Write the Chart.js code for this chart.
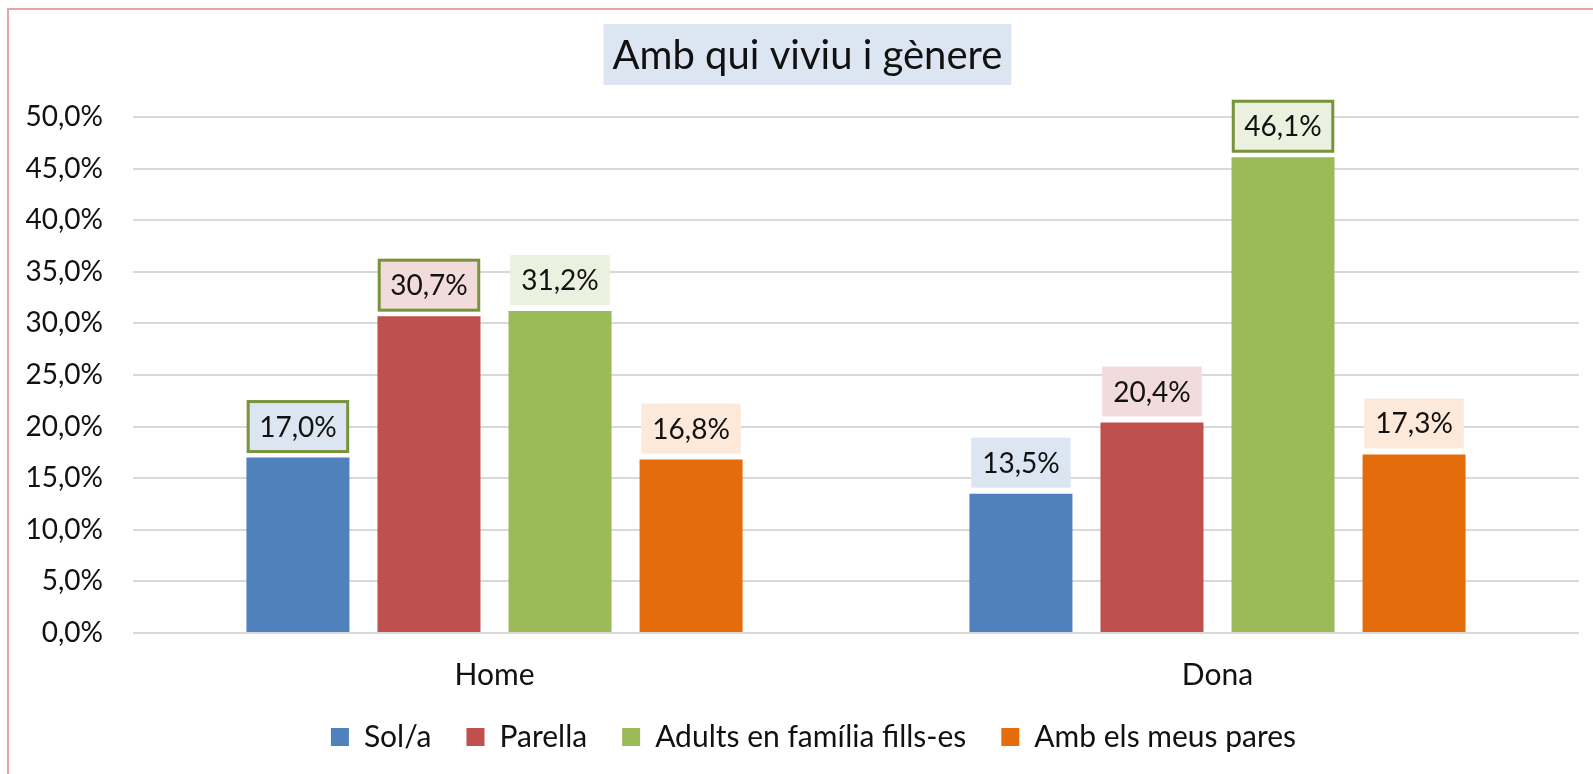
<!DOCTYPE html>
<html>
<head>
<meta charset="utf-8">
<script src="https://cdn.jsdelivr.net/npm/chart.js@4.4.1/dist/chart.umd.min.js"></script>
<style>
    html, body { margin: 0; padding: 0; background: #fff; overflow: hidden; }
    #frame { position: absolute; left: 7px; top: 8px; width: 1640px; height: 820px; border: 2px solid #E8A4A4; }
    #wrap { position: absolute; left: 0; top: 0; width: 1593px; height: 774px; }
</style>
</head>
<body>
<div id="frame"></div>
<div id="wrap"><canvas id="chart"></canvas></div>
<script>
// Data
const categories = ['Home', 'Dona'];
const seriesNames = ['Sol/a', 'Parella', 'Adults en família fills-es', 'Amb els meus pares'];
const solaValues = [17.0, 13.5];
const parellaValues = [30.7, 20.4];
const adultsValues = [31.2, 46.1];
const paresValues = [16.8, 17.3];
const yTicks = [0, 5, 10, 15, 20, 25, 30, 35, 40, 45, 50];
const chartTitle = 'Amb qui viviu i gènere';

// Styles
const barColors = ['#4F81BD', '#C0504D', '#9BBB59', '#E46C0A'];
const labelFills = ['#DCE6F2', '#F2DCDB', '#EBF1DE', '#FDE9D9'];
const outlinedLabels = [[true, false], [true, false], [false, true], [false, false]];
const FONT = 'Lato, "Open Sans", sans-serif';

const fmt = v => v.toFixed(1).replace('.', ',') + '%';

const titlePlugin = {
    id: 'boxedTitle',
    beforeDraw(chart) {
        const ctx = chart.ctx;
        ctx.save();
        ctx.font = `40px ${FONT}`;
        const w = ctx.measureText(chartTitle).width + 18;
        const cx = chart.width / 2 + 11;
        ctx.fillStyle = '#DCE6F2';
        ctx.fillRect(cx - w / 2, 24, w, 61);
        ctx.fillStyle = '#111';
        ctx.textAlign = 'center';
        ctx.textBaseline = 'middle';
        ctx.fillText(chartTitle, cx, 56);
        ctx.restore();
    }
};

// the legend in the original sits a bit right of centre
const legendShift = {
    id: 'legendShift',
    afterLayout(chart) {
        chart.legend.left += 24;
        chart.legend.right += 24;
    }
};

const labelPlugin = {
    id: 'barLabels',
    afterDatasetsDraw(chart) {
        const ctx = chart.ctx;
        ctx.save();
        ctx.font = `28px ${FONT}`;
        ctx.textAlign = 'center';
        ctx.textBaseline = 'middle';
        chart.data.datasets.forEach((ds, di) => {
            const meta = chart.getDatasetMeta(di);
            meta.data.forEach((bar, i) => {
                const text = fmt(ds.data[i]);
                const w = ctx.measureText(text).width + 22;
                const h = 50;
                const x = bar.x - w / 2;
                const y = bar.y - 6 - h;
                ctx.fillStyle = labelFills[di];
                ctx.fillRect(x, y, w, h);
                if (outlinedLabels[di][i]) {
                    ctx.strokeStyle = '#77933C';
                    ctx.lineWidth = 3;
                    ctx.strokeRect(x, y, w, h);
                }
                ctx.fillStyle = '#111';
                ctx.fillText(text, bar.x, y + h / 2 + 1);
            });
        });
        ctx.restore();
    }
};

const seriesValues = [solaValues, parellaValues, adultsValues, paresValues];

new Chart(document.getElementById('chart').getContext('2d'), {
    type: 'bar',
    data: {
        labels: categories,
        datasets: seriesNames.map((name, i) => ({
            label: name,
            data: seriesValues[i],
            backgroundColor: barColors[i],
            borderWidth: 0,
            categoryPercentage: 0.725,
            barPercentage: 0.786
        }))
    },
    options: {
        responsive: true,
        maintainAspectRatio: false,
        animation: false,
        layout: { padding: { top: 117, right: 14, left: 0, bottom: 12 } },
        plugins: {
            title: { display: false },
            tooltip: { enabled: false },
            legend: {
                position: 'bottom',
                labels: {
                    boxWidth: 18,
                    boxHeight: 18,
                    padding: 35,
                    color: '#111',
                    font: { family: FONT, size: 30 }
                }
            }
        },
        scales: {
            x: {
                grid: { display: false },
                border: { display: false },
                ticks: { color: '#111', padding: 16, font: { family: FONT, size: 30 } },
                afterFit: s => { s.height = 54; }
            },
            y: {
                min: 0,
                max: 50,
                afterBuildTicks: s => { s.ticks = yTicks.map(v => ({ value: v })); },
                grid: { color: '#D9D9D9', lineWidth: 2, drawTicks: false },
                border: { display: false },
                ticks: {
                    color: '#111',
                    padding: 30,
                    font: { family: FONT, size: 28 },
                    callback: v => fmt(v)
                },
                afterFit: s => { s.width = 133; }
            }
        }
    },
    plugins: [titlePlugin, legendShift, labelPlugin]
});
</script>
</body>
</html>
